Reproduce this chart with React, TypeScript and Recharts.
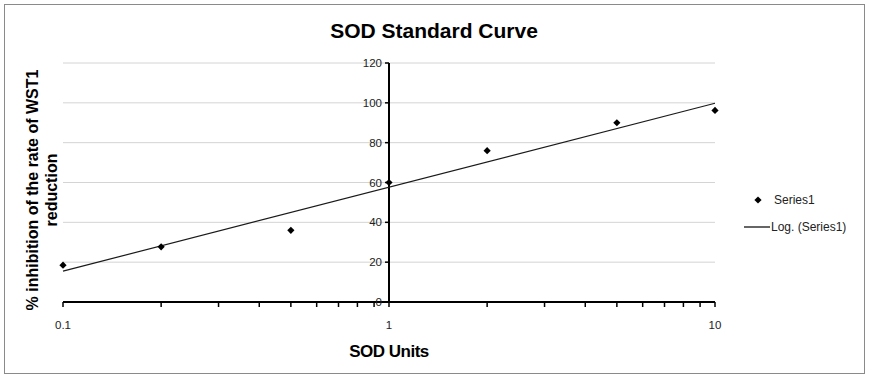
import React from "react";
import {
  ComposedChart,
  Scatter,
  XAxis,
  YAxis,
  CartesianGrid,
  ReferenceLine,
} from "recharts";

// ---- data ----
const sodUnits = [0.1, 0.2, 0.5, 1, 2, 5, 10];
const inhibition = [18.5, 27.7, 36, 60, 76, 90, 96.2];

const trendX = [0.1, 10];
const trendY = [15.5, 99.8];

const xTicks = [0.1, 0.2, 0.3, 0.4, 0.5, 0.6, 0.7, 0.8, 0.9, 1, 2, 3, 4, 5, 6, 7, 8, 9, 10];
const xTickLabels = ["0.1", "1", "10"];
const yTicks = [0, 20, 40, 60, 80, 100, 120];

const title = "SOD Standard Curve";
const xTitle = "SOD Units";
const yTitleLines = ["% inhibition of the rate of WST1", "reduction"];
const seriesName = "Series1";
const trendName = "Log. (Series1)";

// ---- layout ----
const W = 870;
const H = 378;
const PLOT_LEFT = 63;
const PLOT_RIGHT = 715;
const PLOT_TOP = 63;
const PLOT_BOTTOM = 302;
const X_AXIS_H = 30;
const Y_AXIS_W = 1;
const Y_AXIS_X = (PLOT_LEFT + PLOT_RIGHT) / 2;
const FONT = "'Liberation Sans', Arial, sans-serif";

const points = sodUnits.map((x, i) => ({ x, y: inhibition[i] }));
const trend = trendX.map((x, i) => ({ x, y: trendY[i] }));

const Diamond = (props: any) => {
  const { cx, cy } = props;
  if (cx == null || cy == null) return null;
  const r = 3.6;
  return (
    <polygon
      points={`${cx},${cy - r} ${cx + r},${cy} ${cx},${cy + r} ${cx - r},${cy}`}
      fill="#000"
    />
  );
};

const NoShape = () => null;

const YTick = (props: any) => {
  const { y, payload } = props;
  return (
    <g>
      <line x1={Y_AXIS_X - 4} x2={Y_AXIS_X} y1={y} y2={y} stroke="#000" strokeWidth={1.5} />
      <text
        x={Y_AXIS_X - 7}
        y={y}
        dy={4}
        textAnchor="end"
        fontFamily={FONT}
        fontSize={11.5}
        fill="#222"
      >
        {payload.value}
      </text>
    </g>
  );
};

const XTick = (props: any) => {
  const { x, payload } = props;
  const label = String(payload.value);
  if (!xTickLabels.includes(label)) return <g />;
  return (
    <text
      x={x}
      y={PLOT_BOTTOM + 27}
      textAnchor="middle"
      fontFamily={FONT}
      fontSize={11.5}
      fill="#222"
    >
      {label}
    </text>
  );
};

export default function App() {
  return (
    <div
      style={{
        position: "absolute",
        left: 0,
        top: 0,
        width: W,
        height: H,
        background: "#fff",
        overflow: "hidden",
      }}
    >
      <div
        style={{
          position: "absolute",
          left: 4,
          top: 4,
          width: 859,
          height: 368,
          border: "1px solid #8a8a8a",
        }}
      />
      <div style={{ position: "absolute", left: 0, top: 0 }}>
        <ComposedChart
          width={W}
          height={H}
          margin={{
            top: PLOT_TOP,
            right: W - PLOT_RIGHT,
            bottom: H - PLOT_BOTTOM - X_AXIS_H,
            left: PLOT_LEFT - Y_AXIS_W,
          }}
        >
          <CartesianGrid horizontal vertical={false} stroke="#d4d4d4" strokeWidth={1} />
          <XAxis
            type="number"
            dataKey="x"
            scale="log"
            domain={[0.1, 10]}
            ticks={xTicks}
            interval={0}
            height={X_AXIS_H}
            axisLine={{ stroke: "#000", strokeWidth: 2 }}
            tickLine={{ stroke: "#000", strokeWidth: 1.5 }}
            tickSize={5}
            tick={<XTick />}
          />
          <YAxis
            type="number"
            dataKey="y"
            domain={[0, 120]}
            ticks={yTicks}
            width={Y_AXIS_W}
            axisLine={false}
            tickLine={false}
            tick={<YTick />}
            interval={0}
          />
          <ReferenceLine x={1} stroke="#000" strokeWidth={2} />
          <Scatter
            data={trend}
            dataKey="y"
            line={{ stroke: "#1a1a1a", strokeWidth: 1.2 }}
            shape={<NoShape />}
            isAnimationActive={false}
          />
          <Scatter
            data={points}
            dataKey="y"
            shape={<Diamond />}
            isAnimationActive={false}
          />
        </ComposedChart>
      </div>
      <div
        style={{
          position: "absolute",
          left: 434,
          top: 16,
          transform: "translateX(-50%)",
          fontFamily: FONT,
          fontWeight: "bold",
          fontSize: 21,
          color: "#000",
          lineHeight: "30px",
          whiteSpace: "nowrap",
        }}
      >
        {title}
      </div>
      <div
        style={{
          position: "absolute",
          left: Y_AXIS_X,
          top: 340,
          transform: "translateX(-50%)",
          fontFamily: FONT,
          fontWeight: "bold",
          fontSize: 17,
          letterSpacing: -0.5,
          lineHeight: "24px",
          whiteSpace: "nowrap",
          color: "#000",
        }}
      >
        {xTitle}
      </div>
      <div
        style={{
          position: "absolute",
          left: 42,
          top: 190,
          transform: "translate(-50%, -50%) rotate(-90deg)",
          fontFamily: FONT,
          fontWeight: "bold",
          fontSize: 16,
          lineHeight: "19px",
          whiteSpace: "nowrap",
          textAlign: "center",
          color: "#000",
        }}
      >
        {yTitleLines.map((l) => (
          <div key={l}>{l}</div>
        ))}
      </div>
      <div style={{ position: "absolute", left: 740, top: 190, fontFamily: FONT, fontSize: 12, color: "#222" }}>
        <div style={{ display: "flex", alignItems: "center", height: 20 }}>
          <svg width={34} height={20}>
            <polygon points="18,6.4 21.6,10 18,13.6 14.4,10" fill="#000" />
          </svg>
          <span>{seriesName}</span>
        </div>
        <div style={{ display: "flex", alignItems: "center", height: 20, marginTop: 7 }}>
          <svg width={31} height={20}>
            <line x1={4} x2={30} y1={10} y2={10} stroke="#000" strokeWidth={1.2} />
          </svg>
          <span>{trendName}</span>
        </div>
      </div>
    </div>
  );
}
